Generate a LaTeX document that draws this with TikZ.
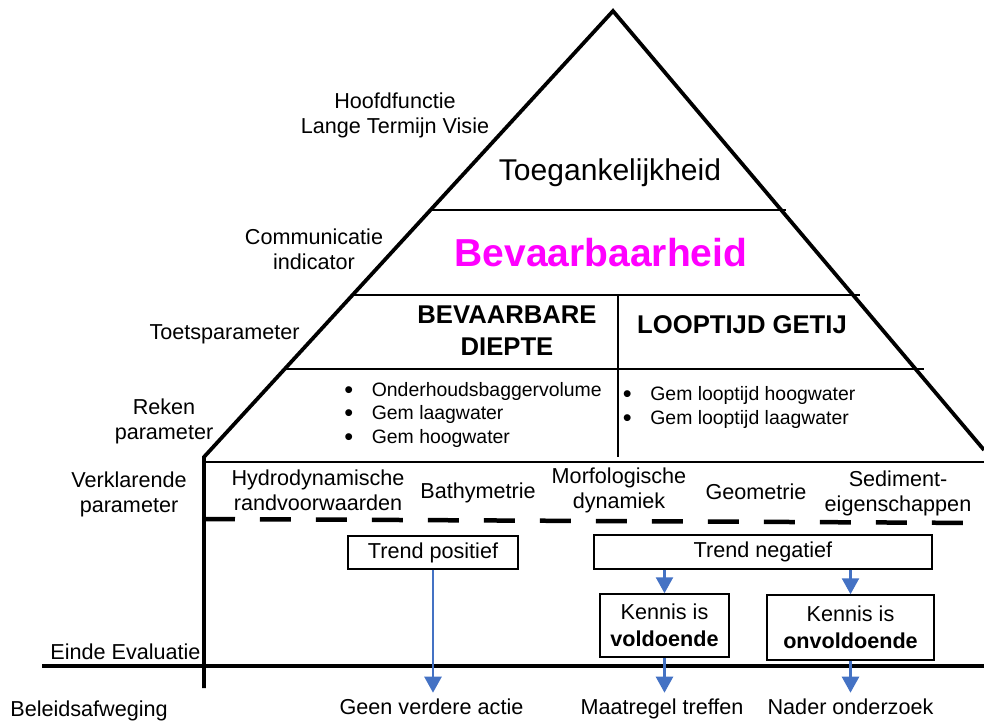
\documentclass[tikz,border=0pt]{standalone}
\usepackage{fontspec}
\setmainfont{Liberation Sans}
\usetikzlibrary{arrows.meta}
\definecolor{pijlblauw}{RGB}{68,114,196}
\definecolor{roze}{RGB}{255,0,255}
\newcommand{\punt}{\makebox[0.51cm][l]{\hspace{-0.04cm}\raisebox{-1.1pt}{\fontsize{14.4}{14.4}\selectfont\textbullet}}}

\begin{document}
\begin{tikzpicture}[x=0.02cm, y=-0.02cm,
    tekst/.style={font=\fontsize{12.3}{14.2}\selectfont, inner sep=0pt},
    kop/.style={font=\fontsize{14.6}{18.2}\selectfont\bfseries, inner sep=0pt},
    lijst/.style={font=\fontsize{11.05}{13.3}\selectfont, inner sep=0pt, align=left, anchor=north west},
    kader/.style={draw, line width=0.03cm, inner sep=0pt, align=center, font=\fontsize{12.3}{15.2}\selectfont},
    uitkomst/.style={font=\fontsize{12.3}{14.2}\selectfont, inner sep=3pt, anchor=base},
    pijl/.style={pijlblauw, line width=0.05cm, -{Triangle[width=0.34cm, length=0.32cm]}},
    dun/.style={line width=0.03cm},
    dik/.style={line width=0.075cm}]
        \useasboundingbox (0,0) rectangle (984,722);
        \draw[dik, line join=miter] (204,688) -- (204,457) -- (613,11) -- (984,450);
        \draw[dun] (430.5,210) -- (786,210);
        \draw[dun] (352.6,295) -- (860,295);
        \draw[dun] (284.7,369) -- (924,369);
        \draw[dun] (618,295) -- (618,457);
        \draw[dun] (204,462) -- (984,462);
        \draw[line width=0.09cm, dash pattern=on 0.62cm off 0.5cm] (204,519) -- (984,523);
        \draw[dik] (42,666) -- (984,666);

        \node[tekst, align=center] (hoofd) at (395,115) {Hoofdfunctie\\Lange Termijn Visie};
        \node[tekst, anchor=base, font=\fontsize{17.1}{20}\selectfont] (toeg) at (610,181) {Toegankelijkheid};
        \node[tekst, align=center] (comm) at (314,249) {Communicatie\\indicator};
        \node[tekst, anchor=base, font=\fontsize{22.2}{26}\selectfont\bfseries, text=roze] (bevaar) at (601,267) {Bevaarbaarheid};
        \node[tekst, anchor=base east] (toets) at (300,340) {Toetsparameter};
        \node[kop, align=center] (diepte) at (507,331) {BEVAARBARE\\DIEPTE};
        \node[kop, anchor=base] (getij) at (742,334) {LOOPTIJD GETIJ};
        \node[tekst, align=center] (reken) at (164,421) {Reken\\parameter};
        \node[lijst] (lijstdiepte) at (346,382) {\punt Onderhoudsbaggervolume\\\punt Gem laagwater\\\punt Gem hoogwater};
        \node[lijst] (lijstgetij) at (624.5,386.5) {\punt Gem looptijd hoogwater\\\punt Gem looptijd laagwater};
        \node[tekst, align=center] (verkl) at (129,494.5) {Verklarende\\parameter};
        \node[tekst, align=center] (hydro) at (318,490.5) {Hydrodynamische\\randvoorwaarden};
        \node[tekst, anchor=base] (bathy) at (478,499) {Bathymetrie};
        \node[tekst, align=center] (morfo) at (619,490.5) {Morfologische\\dynamiek};
        \node[tekst, anchor=base] (geom) at (756,500) {Geometrie};
        \node[tekst, align=center] (sedi) at (898,493) {Sediment-\\eigenschappen};

        \node[kader, minimum width=3.4cm, minimum height=0.66cm] (tpos) at (433,552.5) {Trend positief};
        \node[kader, minimum width=6.76cm, minimum height=0.68cm] (tneg) at (763,552) {Trend negatief};
        \node[kader, minimum width=2.58cm, minimum height=1.26cm] (kvold) at (664.5,625.5) {Kennis is\\\textbf{voldoende}};
        \node[kader, minimum width=3.34cm, minimum height=1.3cm] (konv) at (850.5,627.5) {Kennis is\\\textbf{onvoldoende}};

        \node[uitkomst] (geen) at (431.5,714) {Geen verdere actie};
        \node[uitkomst] (maat) at (662,714) {Maatregel treffen};
        \node[uitkomst] (nader) at (850.5,714) {Nader onderzoek};
        \node[tekst, anchor=base west] (einde) at (50,660) {Einde Evaluatie};
        \node[tekst, anchor=base west] (beleid) at (10,716) {Beleidsafweging};

        \draw[pijl] (tpos.south) -- (tpos.south |- geen.north);
        \draw[pijl] (tneg.south -| kvold.north) -- (kvold.north);
        \draw[pijl] (tneg.south -| konv.north) -- (konv.north);
        \draw[pijl] (kvold.south) -- (kvold.south |- maat.north);
        \draw[pijl] (konv.south) -- (konv.south |- nader.north);
    \end{tikzpicture}
\end{document}
